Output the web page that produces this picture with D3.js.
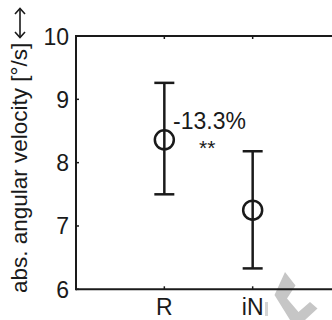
<!DOCTYPE html>
<html><head><meta charset="utf-8">
<script src="https://cdn.jsdelivr.net/npm/d3@7"></script>
<style>body{margin:0;background:#fff}svg{display:block}text{font-family:"Liberation Sans",Arial,sans-serif;fill:#1a1a1a}</style>
</head><body>
<script>
const categories = ["R", "iN"];
const means = [8.36, 7.25];
const upper = [9.26, 8.18];
const lower = [7.50, 6.33];
const yTicks = [6, 7, 8, 9, 10];
const annotation = "-13.3%";
const significance = "**";
const yLabel = "abs. angular velocity [°/s]";

const W = 332, H = 320;
const svg = d3.select("body").append("svg").attr("width", W).attr("height", H);
const ink = "#1a1a1a";

const y = d3.scaleLinear().domain([6, 10]).range([289.3, 36]);
const x = d3.scaleLinear().domain([0, categories.length + 1]).range([76, 341]);
const xi = i => x(i + 1);

// watermark
svg.append("path")
  .attr("d", "M285,272 L295.5,285.5 L287,298.5 L298.5,312 L310,302 L317.5,308.5 L305,320 L290,320 L274.5,295 Z")
  .attr("fill", "#c6c6c6");
svg.append("rect").attr("x", 265).attr("y", 302).attr("width", 3).attr("height", 14).attr("fill", "#d4d4d4");

// axes box (right side beyond view)
const x0 = x.range()[0], x1 = x.range()[1];
const g = svg.append("g").attr("stroke", ink).attr("stroke-width", 2).attr("fill", "none");
g.append("line").attr("x1", x0).attr("x2", x1).attr("y1", y(10)).attr("y2", y(10));
g.append("line").attr("x1", x0).attr("x2", x1).attr("y1", y(6)).attr("y2", y(6));
g.append("line").attr("x1", x0).attr("x2", x0).attr("y1", y(10) - 1).attr("y2", y(6) + 1);

yTicks.forEach(t => {
  g.append("line").attr("x1", x0).attr("x2", x0 + 3).attr("y1", y(t)).attr("y2", y(t)).attr("stroke-width", 1.5);
});
categories.forEach((c, i) => {
  g.append("line").attr("x1", xi(i)).attr("x2", xi(i)).attr("y1", y(6)).attr("y2", y(6) - 3).attr("stroke-width", 1.5);
  g.append("line").attr("x1", xi(i)).attr("x2", xi(i)).attr("y1", y(10)).attr("y2", y(10) + 3).attr("stroke-width", 1.5);
});

// tick labels
svg.selectAll("text.yt").data(yTicks).enter().append("text")
  .attr("class", "yt").attr("x", 69).attr("y", d => y(d) + 8.5)
  .attr("text-anchor", "end").attr("font-size", 23).text(d => d);
svg.selectAll("text.xt").data(categories).enter().append("text")
  .attr("class", "xt").attr("x", (d, i) => xi(i)).attr("y", 315)
  .attr("text-anchor", "middle").attr("font-size", 23).text(d => d);

// y label
svg.append("text").attr("transform", "translate(27,293) rotate(-90)")
  .attr("text-anchor", "start").attr("font-size", 22.5).text(yLabel);
// double arrow after label
const ar = svg.append("g").attr("stroke", ink).attr("stroke-width", 1.6).attr("fill", "none");
ar.append("line").attr("x1", 20).attr("x2", 20).attr("y1", 9).attr("y2", 37);
ar.append("path").attr("d", "M15,14 L20,8.5 L25,14");
ar.append("path").attr("d", "M15,32 L20,37.5 L25,32");

// error bars
const eb = svg.append("g").attr("stroke", ink).attr("stroke-width", 2.5).attr("fill", "none");
categories.forEach((c, i) => {
  const cx = xi(i);
  eb.append("line").attr("x1", cx).attr("x2", cx).attr("y1", y(upper[i])).attr("y2", y(lower[i]));
  eb.append("line").attr("x1", cx - 10).attr("x2", cx + 10).attr("y1", y(upper[i])).attr("y2", y(upper[i]));
  eb.append("line").attr("x1", cx - 10).attr("x2", cx + 10).attr("y1", y(lower[i])).attr("y2", y(lower[i]));
  eb.append("circle").attr("cx", cx).attr("cy", y(means[i])).attr("r", 9.5);
});

// annotations
svg.append("text").attr("x", 173).attr("y", 128.5).attr("font-size", 23).text(annotation);
svg.append("text").attr("x", 199).attr("y", 155).attr("font-size", 21).text(significance);
</script>
</body></html>
